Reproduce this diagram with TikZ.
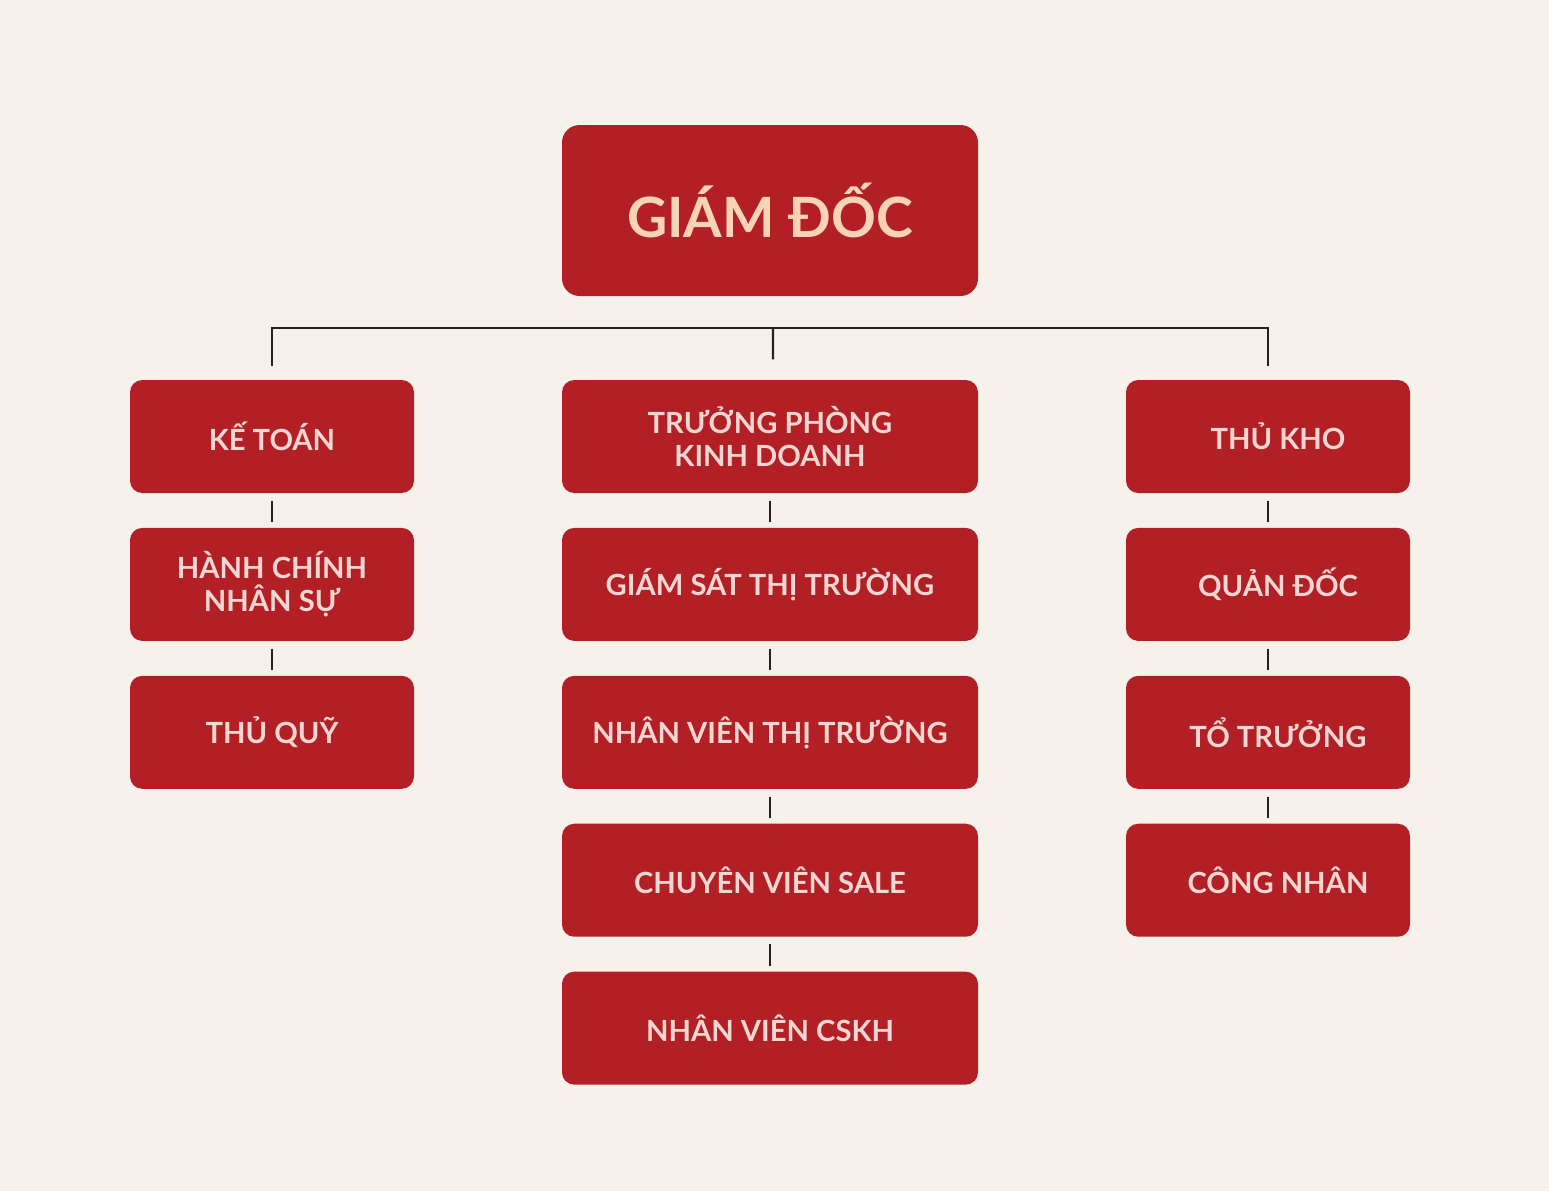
\documentclass[tikz,border=0pt]{standalone}
\usepackage{fontspec}
\setmainfont{Lato}
\usetikzlibrary{positioning}
\definecolor{boxred}{HTML}{B21F24}
\definecolor{paper}{HTML}{F6F1EA}
\definecolor{peach}{HTML}{F9D3B6}
\definecolor{pinktext}{HTML}{F4D6D3}
\definecolor{linegray}{HTML}{222222}
\tikzset{
  box/.style={fill=boxred, rounded corners=3.5pt, text=pinktext, align=center,
    font=\bfseries\fontsize{8.3}{9.5}\selectfont, minimum height=1.13cm, inner sep=0pt},
  side/.style={box, minimum width=2.84cm},
  rside/.style={side, execute at begin node={\hspace*{2mm}}},
  mid/.style={box, minimum width=4.16cm},
  link/.style={draw=linegray, line width=0.6pt, shorten <=0.7mm, shorten >=0.5mm}
}

\begin{document}
\begin{tikzpicture}[node distance=0.335cm]
  \fill[paper] (0,0) rectangle (15.49,-11.91);
  \useasboundingbox (0,0) rectangle (15.49,-11.91);

  \node[mid, minimum height=1.71cm, rounded corners=5pt, text=peach,
    font=\bfseries\fontsize{15.8}{18}\selectfont] (gd) at (7.70,-2.105) {GIÁM ĐỐC};

  % left column
  \node[side] (kt) at (2.72,-4.365) {KẾ TOÁN};
  \node[side, below=of kt] (hc) {HÀNH CHÍNH\\NHÂN SỰ};
  \node[side, below=of hc] (tq) {THỦ QUỸ};

  % middle column
  \node[mid] (tp) at (7.70,-4.365) {TRƯỞNG PHÒNG\\KINH DOANH};
  \node[mid, below=of tp] (gs) {GIÁM SÁT THỊ TRƯỜNG};
  \node[mid, below=of gs] (nv) {NHÂN VIÊN THỊ TRƯỜNG};
  \node[mid, below=of nv] (cv) {CHUYÊN VIÊN SALE};
  \node[mid, below=of cv] (cs) {NHÂN VIÊN CSKH};

  % right column
  \node[rside] (tk) at (12.68,-4.365) {THỦ KHO};
  \node[rside, below=of tk] (qd) {QUẢN ĐỐC};
  \node[rside, below=of qd] (tt) {TỔ TRƯỞNG};
  \node[rside, below=of tt] (cn) {CÔNG NHÂN};

  % top bar
  \coordinate (bus) at (7.73,-3.28);
  \draw[linegray, line width=0.6pt] ([yshift=1.3mm]kt.north) |- (bus) -| ([yshift=1.3mm]tk.north);
  \draw[linegray, line width=0.6pt] (bus) -- ([xshift=0.3mm,yshift=2mm]tp.north);

  \draw[link] (kt) -- (hc);
  \draw[link] (hc) -- (tq);
  \draw[link] (tp) -- (gs);
  \draw[link] (gs) -- (nv);
  \draw[link] (nv) -- (cv);
  \draw[link] (cv) -- (cs);
  \draw[link] (tk) -- (qd);
  \draw[link] (qd) -- (tt);
  \draw[link] (tt) -- (cn);
\end{tikzpicture}
\end{document}
